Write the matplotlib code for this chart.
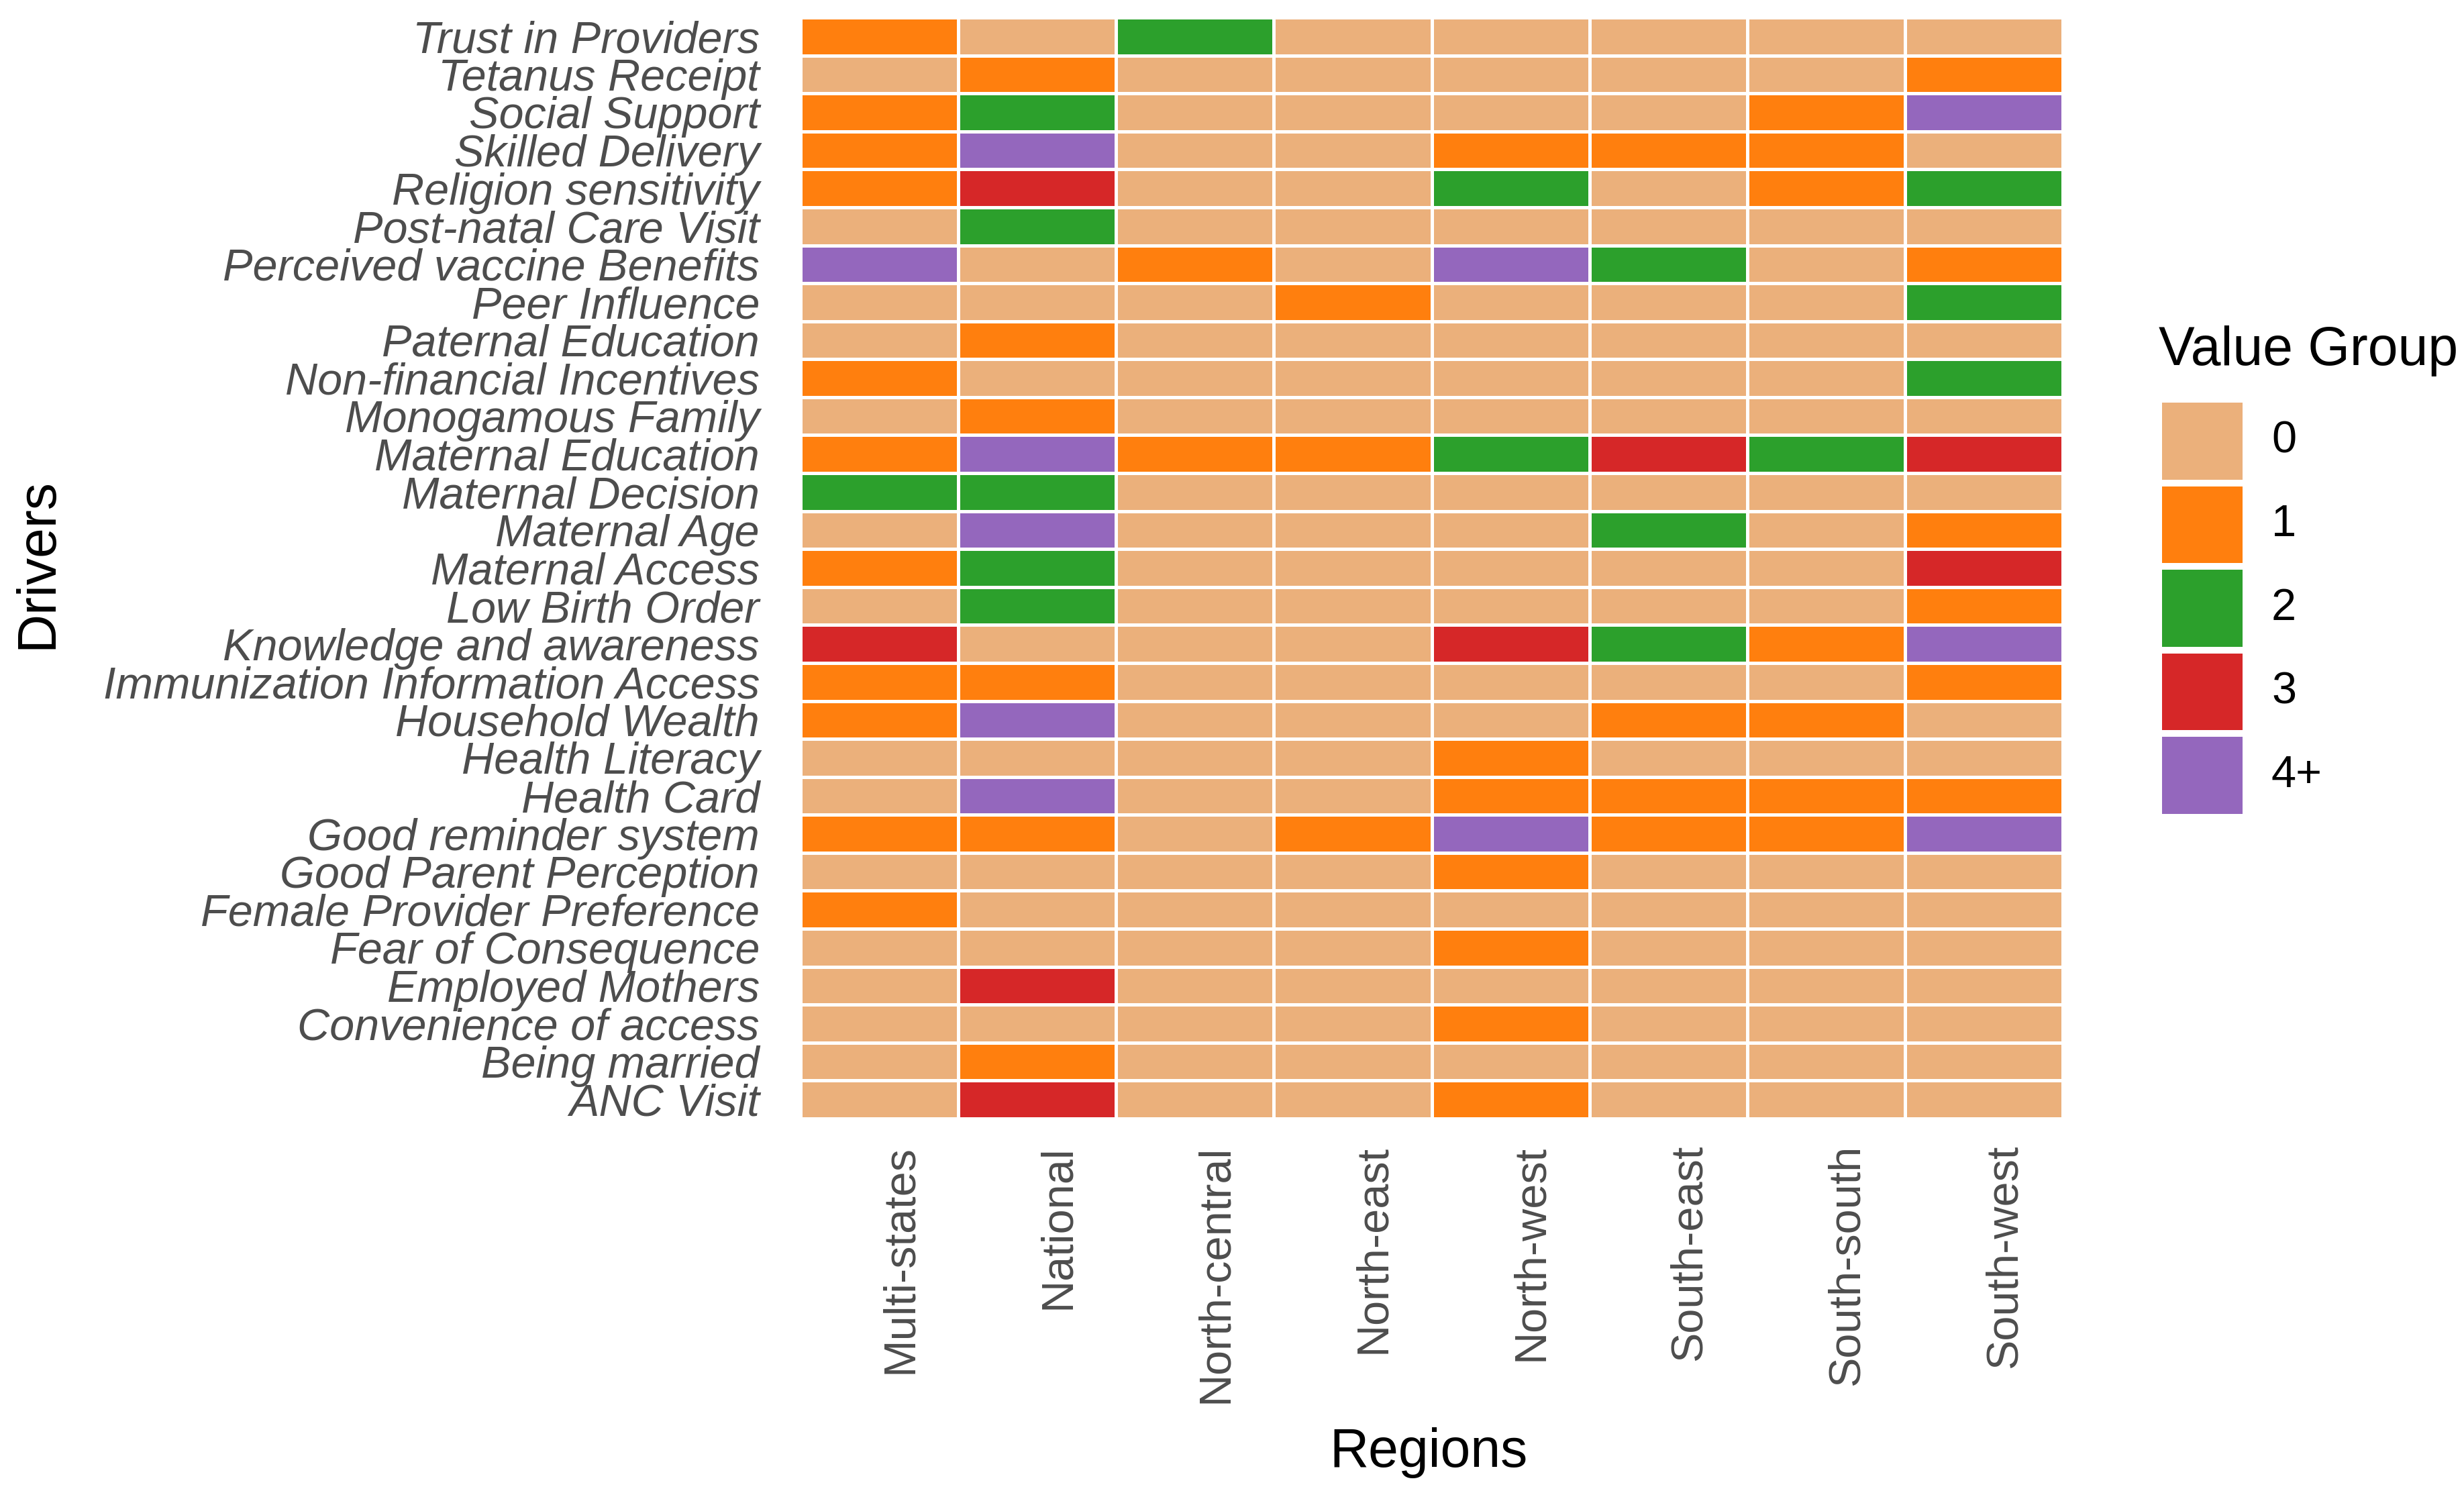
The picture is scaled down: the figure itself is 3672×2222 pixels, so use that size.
import matplotlib
matplotlib.use("Agg")
import matplotlib.pyplot as plt
import matplotlib.transforms as mtransforms
from matplotlib.colors import ListedColormap, BoundaryNorm
import numpy as np

plt.rcParams['font.family'] = ['Liberation Sans', 'DejaVu Sans']

regions = ["Multi-states", "National", "North-central", "North-east",
           "North-west", "South-east", "South-south", "South-west"]

drivers = ["Trust in Providers", "Tetanus Receipt", "Social Support", "Skilled Delivery",
           "Religion sensitivity", "Post-natal Care Visit", "Perceived vaccine Benefits",
           "Peer Influence", "Paternal Education", "Non-financial Incentives",
           "Monogamous Family", "Maternal Education", "Maternal Decision", "Maternal Age",
           "Maternal Access", "Low Birth Order", "Knowledge and awareness",
           "Immunization Information Access", "Household Wealth", "Health Literacy",
           "Health Card", "Good reminder system", "Good Parent Perception",
           "Female Provider Preference", "Fear of Consequence", "Employed Mothers",
           "Convenience of access", "Being married", "ANC Visit"]

# value group index per driver (rows) and region (columns); 4 means "4+"
trust_in_providers = [1, 0, 2, 0, 0, 0, 0, 0]
tetanus_receipt = [0, 1, 0, 0, 0, 0, 0, 1]
social_support = [1, 2, 0, 0, 0, 0, 1, 4]
skilled_delivery = [1, 4, 0, 0, 1, 1, 1, 0]
religion_sensitivity = [1, 3, 0, 0, 2, 0, 1, 2]
post_natal_care = [0, 2, 0, 0, 0, 0, 0, 0]
perceived_benefits = [4, 0, 1, 0, 4, 2, 0, 1]
peer_influence = [0, 0, 0, 1, 0, 0, 0, 2]
paternal_education = [0, 1, 0, 0, 0, 0, 0, 0]
non_financial = [1, 0, 0, 0, 0, 0, 0, 2]
monogamous_family = [0, 1, 0, 0, 0, 0, 0, 0]
maternal_education = [1, 4, 1, 1, 2, 3, 2, 3]
maternal_decision = [2, 2, 0, 0, 0, 0, 0, 0]
maternal_age = [0, 4, 0, 0, 0, 2, 0, 1]
maternal_access = [1, 2, 0, 0, 0, 0, 0, 3]
low_birth_order = [0, 2, 0, 0, 0, 0, 0, 1]
knowledge = [3, 0, 0, 0, 3, 2, 1, 4]
immunization_info = [1, 1, 0, 0, 0, 0, 0, 1]
household_wealth = [1, 4, 0, 0, 0, 1, 1, 0]
health_literacy = [0, 0, 0, 0, 1, 0, 0, 0]
health_card = [0, 4, 0, 0, 1, 1, 1, 1]
reminder_system = [1, 1, 0, 1, 4, 1, 1, 4]
parent_perception = [0, 0, 0, 0, 1, 0, 0, 0]
female_provider = [1, 0, 0, 0, 0, 0, 0, 0]
fear_consequence = [0, 0, 0, 0, 1, 0, 0, 0]
employed_mothers = [0, 3, 0, 0, 0, 0, 0, 0]
convenience_access = [0, 0, 0, 0, 1, 0, 0, 0]
being_married = [0, 1, 0, 0, 0, 0, 0, 0]
anc_visit = [0, 3, 0, 0, 1, 0, 0, 0]

groups = ["0", "1", "2", "3", "4+"]
group_colors = ["#EBB07B", "#FF7F0E", "#2CA02C", "#D62728", "#9467BD"]

values = np.array([trust_in_providers, tetanus_receipt, social_support, skilled_delivery,
                   religion_sensitivity, post_natal_care, perceived_benefits, peer_influence,
                   paternal_education, non_financial, monogamous_family, maternal_education,
                   maternal_decision, maternal_age, maternal_access, low_birth_order,
                   knowledge, immunization_info, household_wealth, health_literacy,
                   health_card, reminder_system, parent_perception, female_provider,
                   fear_consequence, employed_mothers, convenience_access, being_married,
                   anc_visit])

W, H, DPI = 3672, 2222, 200
fig = plt.figure(figsize=(W / DPI, H / DPI), dpi=DPI, facecolor="white")

# main heatmap axes (pixel-measured placement)
gl, gr, gt, gb = 1193, 3074, 26, 1667
ax = fig.add_axes([gl / W, 1 - gb / H, (gr - gl) / W, (gb - gt) / H])

cmap = ListedColormap(group_colors)
norm = BoundaryNorm(np.arange(-0.5, len(groups) + 0.5, 1), cmap.N)
ax.pcolormesh(np.arange(len(regions) + 1), np.arange(len(drivers) + 1), values,
              cmap=cmap, norm=norm, edgecolors="white", linewidth=1.8)
ax.set_xlim(0, len(regions))
ax.set_ylim(len(drivers), 0)
for s in ax.spines.values():
    s.set_visible(False)

ax.set_yticks(np.arange(len(drivers)) + 0.5)
ax.set_yticklabels(drivers, fontsize=24, style="italic", color="#4D4D4D")
ax.tick_params(axis="y", length=0, pad=22)

ax.set_xticks(np.arange(len(regions)) + 0.5)
ax.set_xticklabels(regions, fontsize=24, color="#4D4D4D", rotation=90, va="top", ha="center")
ax.tick_params(axis="x", length=0, pad=14)
offset = mtransforms.ScaledTranslation(31 / DPI, 0, fig.dpi_scale_trans)
for lbl in ax.get_xticklabels():
    lbl.set_transform(lbl.get_transform() + offset)

fig.text(2129 / W, 1 - 2186 / H, "Regions", fontsize=29, ha="center", va="baseline", color="black")
fig.text(56 / W, 1 - 840 / H, "Drivers", fontsize=29, ha="center", va="center", rotation=90, color="black")

# legend drawn as its own small axes
kl, kr, kt, kb = 3222, 3342, 595, 1218
lax = fig.add_axes([kl / W, 1 - kb / H, (kr - kl) / W, (kb - kt) / H])
lax.barh(np.arange(len(groups)), [1] * len(groups), height=0.92, left=0, color=group_colors)
lax.set_xlim(0, 1)
lax.set_ylim(len(groups) - 0.5, -0.5)
lax.axis("off")
for i, g in enumerate(groups):
    lax.text((3385 - kl) / (kr - kl), i, g, fontsize=24, ha="left", va="center", color="black")
lax.annotate("Value Group", xy=((3217 - kl) / (kr - kl), 1), xycoords="axes fraction",
             xytext=(0, (kt - 544) / DPI * 72), textcoords="offset points",
             fontsize=29, ha="left", va="baseline", color="black", annotation_clip=False)

fig.savefig("out.png", dpi=DPI, facecolor="white")
